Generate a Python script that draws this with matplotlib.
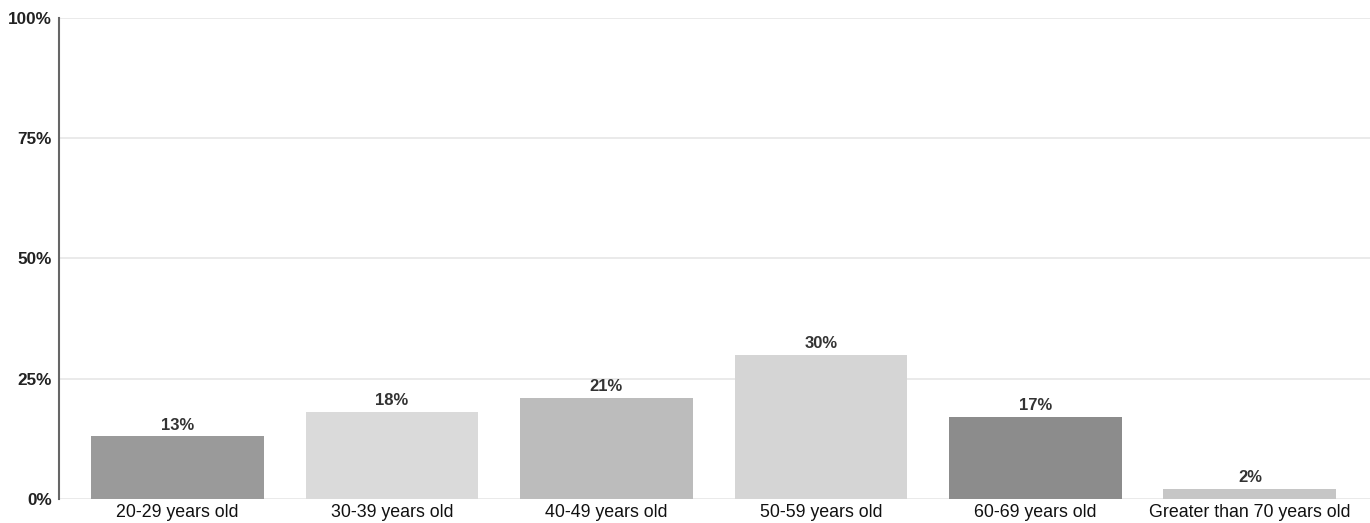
import matplotlib.pyplot as plt
from matplotlib.ticker import FuncFormatter

categories = ["20-29 years old", "30-39 years old", "40-49 years old",
              "50-59 years old", "60-69 years old", "Greater than 70 years old"]
values = [13, 18, 21, 30, 17, 2]
colors = ["#9a9a9a", "#dadada", "#bcbcbc", "#d5d5d5", "#8c8c8c", "#c6c6c6"]
yticks = [0, 25, 50, 75, 100]

plt.rcParams["font.family"] = ["Liberation Sans", "DejaVu Sans"]

fig = plt.figure(figsize=(13.7, 5.23), dpi=100)
ax = fig.add_axes([0.043, 0.046, 0.957, 0.92])

x = range(len(categories))
ax.bar(x, values, width=0.806, color=colors, zorder=2)
for xi, v in zip(x, values):
    ax.text(xi, v + 0.8, f"{v}%", ha="center", va="bottom",
            fontsize=12, fontweight="bold", color="#333333")

ax.set_xlim(-0.553, 5.56)
ax.set_ylim(0, 100)
ax.set_yticks(yticks)
ax.yaxis.set_major_formatter(FuncFormatter(lambda v, p: f"{int(v)}%"))
ax.set_xticks(list(x))
ax.set_xticklabels(categories, fontsize=12.8, color="#111111")
for lbl in ax.get_yticklabels():
    lbl.set_fontweight("bold")
    lbl.set_fontsize(12.3)
    lbl.set_color("#222222")
ax.tick_params(axis="both", length=0)
ax.tick_params(axis="x", pad=4)
ax.tick_params(axis="y", pad=5)

ax.grid(axis="y", color="#e6e6e6", linewidth=1.2, zorder=0)
for s in ["top", "right", "bottom"]:
    ax.spines[s].set_visible(False)
ax.spines["left"].set_color("#666666")
ax.spines["left"].set_linewidth(1.5)

fig.savefig("out.png", dpi=100)
